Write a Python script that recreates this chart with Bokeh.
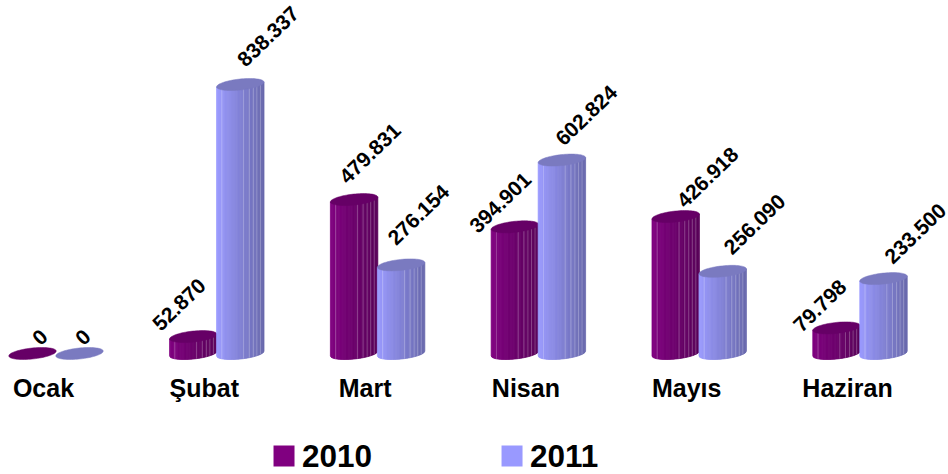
import numpy as np
from bokeh.plotting import figure
from bokeh.embed import file_html
from bokeh.resources import INLINE
from bokeh.core.properties import value

months = ["Ocak", "Şubat", "Mart", "Nisan", "Mayıs", "Haziran"]
series_names = ["2010", "2011"]
v2010 = [0, 52870, 479831, 394901, 426918, 79798]
v2011 = [0, 838337, 276154, 602824, 256090, 233500]
labels2010 = ["0", "52.870", "479.831", "394.901", "426.918", "79.798"]
labels2011 = ["0", "838.337", "276.154", "602.824", "256.090", "233.500"]
off2010 = [(7.5, -16), (-14, -32), (16, -46), (-14.5, -24), (32, -39), (-16.5, -22)]
off2011 = [(3.5, -16), (28, -48), (17.5, -50), (24.5, -44.6), (32, -47), (32, -45)]

W, H = 948, 474
PX_CAT = 160.8
PX_UNIT = 269 / 838337
x0_px, y0_px = 55.5, 353
x_range = (-x0_px / PX_CAT, (W - x0_px) / PX_CAT)
y_range = (-(H - y0_px) / PX_UNIT, y0_px / PX_UNIT)

p = figure(width=W, height=H, output_backend="svg", toolbar_location=None,
           x_range=x_range, y_range=y_range,
           min_border=0, outline_line_color=None, background_fill_color="white")
p.axis.visible = False
p.grid.visible = False

HALF = 23.7 / PX_CAT
B = 5.5 / PX_UNIT
SHEAR = 2.4 / PX_UNIT
N = 40
STRIPES = [-0.78, 0.14, 0.38, 0.55, 0.70, 0.85]


def shade(base_l, base_r, t):
    c = np.array(base_l) + (np.array(base_r) - np.array(base_l)) * t
    return "#%02x%02x%02x" % tuple(int(round(x)) for x in c)


def bottom_edge(u):
    return SHEAR * u - B * np.sqrt(np.clip(1 - u ** 2, 0, 1))


def cylinder(xc, val, left, right, top):
    if val > 0:
        xs, ys, colors = [], [], []
        edges = np.linspace(-1, 1, N + 1)
        for k in range(N):
            u = np.linspace(edges[k], edges[k + 1], 3)
            xs.append(list(xc + HALF * u) + list(xc + HALF * u[::-1]))
            ys.append(list(bottom_edge(u)) + list(val + SHEAR * u[::-1]))
            colors.append(shade(left, right, (k + .5) / N))
        p.patches(xs, ys, fill_color=colors, line_color=colors, line_width=0.8)
        su = np.array(STRIPES)
        p.segment(xc + HALF * su, bottom_edge(su), xc + HALF * su, val + SHEAR * su,
                  line_color="white", line_alpha=0.25, line_width=1)
    t = np.linspace(0, 2 * np.pi, 80)
    p.patch(xc + HALF * np.cos(t), val + SHEAR * np.cos(t) + B * np.sin(t),
            fill_color=top, line_color=top, line_width=0.5)


PURPLE = dict(left=(128, 0, 128), right=(88, 0, 88), top="#660066")
BLUE = dict(left=(155, 155, 255), right=(104, 104, 172), top="#7a7ac0")
GAP = 23.5 / PX_CAT

for i in range(len(months)):
    cylinder(i - GAP, v2010[i], **PURPLE)
    cylinder(i + GAP, v2011[i], **BLUE)

font = value("Liberation Sans")
angle = np.deg2rad(44)
lx = [i - GAP for i in range(len(months))] + [i + GAP for i in range(len(months))]
ly = v2010 + v2011
lt = labels2010 + labels2011
off = off2010 + off2011
p.text(lx, ly, text=lt, angle=angle, text_font=font, text_font_style="bold",
       text_font_size="21px", text_color="black", text_align="center",
       text_baseline="middle", x_offset=[o[0] for o in off], y_offset=[o[1] for o in off])

p.text(list(range(len(months))), [0] * 6, text=months, text_font=font, text_font_style="bold",
       text_font_size="25px", text_color="black", text_align="center",
       text_baseline="middle", x_offset=[-12.5] * 6, y_offset=[34] * 6)

leg_x = [1.418, 2.836]
leg_y = [-102.5 / PX_UNIT] * 2
p.scatter(leg_x, leg_y, marker="square", size=21, fill_color=["#800080", "#9999ff"], line_color=None)
p.text(leg_x, leg_y, text=series_names, text_font=font, text_font_style="bold",
       text_font_size="31.5px", text_color="black", text_align="left",
       text_baseline="middle", x_offset=[18, 18], y_offset=[0, 0])

open("out.html", "w").write(file_html(p, INLINE))
